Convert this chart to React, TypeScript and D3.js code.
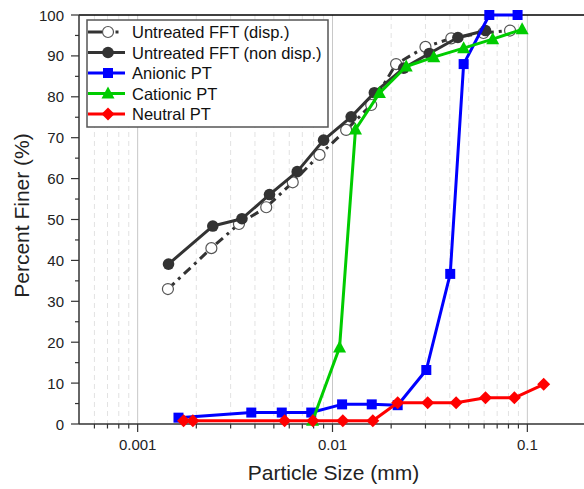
import React from "react";
import * as d3 from "d3";

// particle size (mm) and percent finer
const dispSize = [0.00143, 0.00239, 0.00331, 0.00457, 0.00625, 0.00858, 0.01175, 0.0158, 0.0212, 0.03, 0.0407, 0.0595, 0.0815];
const dispFiner = [33.0, 43.0, 48.9, 53.0, 59.1, 65.8, 71.9, 78.0, 88.0, 92.2, 94.3, 95.6, 96.2];

const nonDispSize = [0.00144, 0.00243, 0.00343, 0.00475, 0.00659, 0.009, 0.01247, 0.0164, 0.0232, 0.0314, 0.044, 0.061];
const nonDispFiner = [39.1, 48.4, 50.2, 56.1, 61.7, 69.4, 75.1, 81.0, 87.0, 90.6, 94.5, 96.2];

const anionicSize = [0.00162, 0.00383, 0.00549, 0.00778, 0.0112, 0.0159, 0.0216, 0.0303, 0.0402, 0.0471, 0.0638, 0.0891];
const anionicFiner = [1.55, 2.8, 2.8, 2.8, 4.8, 4.8, 4.6, 13.2, 36.7, 88.0, 100, 100];

const cationicSize = [0.0079, 0.01087, 0.01312, 0.01741, 0.0239, 0.0331, 0.0471, 0.0664, 0.094];
const cationicFiner = [0.8, 18.7, 72.0, 80.9, 87.4, 89.7, 91.9, 94.1, 96.5];

const neutralSize = [0.00172, 0.00192, 0.00568, 0.00793, 0.0113, 0.0161, 0.0216, 0.0308, 0.0431, 0.061, 0.0858, 0.1213];
const neutralFiner = [0.8, 0.8, 0.8, 0.8, 0.8, 0.8, 5.2, 5.2, 5.2, 6.4, 6.4, 9.7];

const xMajor = [0.001, 0.01, 0.1];
const xTickLabels = ["0.001", "0.01", "0.1"];
const yTicks = [0, 10, 20, 30, 40, 50, 60, 70, 80, 90, 100];

const legendNames = ["Untreated FFT (disp.)", "Untreated FFT (non disp.)", "Anionic PT", "Cationic PT", "Neutral PT"];

const W = 584;
const H = 489;
const left = 79;
const top = 15;
const bottom = 424;
const font = "Arial, 'Liberation Sans', sans-serif";

const gray = "#333333";
const blue = "#0000ff";
const green = "#00cc00";
const red = "#ff0000";

const x = d3.scaleLog().domain([0.0005, 0.2]).range([left, 586]);
const y = d3.scaleLinear().domain([0, 100]).range([bottom, top]);

const minorX: number[] = [];
[0.0001, 0.001, 0.01, 0.1].forEach(d => {
    for (let k = 2; k <= 9; k++) {
        const v = d * k;
        if (v > 0.0005 && v < 0.2) minorX.push(v);
    }
});
const minorY = d3.range(5, 100, 10);

const pts = (xs: number[], ys: number[]) => xs.map((v, i) => [x(v), y(ys[i])] as [number, number]);
const line = d3.line();

const Marker = ({ kind, cx, cy, color }: { kind: string; cx: number; cy: number; color: string }) => {
    if (kind === "open") return <circle cx={cx} cy={cy} r={5.5} fill="#fff" stroke="#555" strokeWidth={1.2} />;
    if (kind === "dot") return <circle cx={cx} cy={cy} r={5.8} fill={color} />;
    if (kind === "square") return <rect x={cx - 5} y={cy - 5} width={10} height={10} fill={color} />;
    if (kind === "tri")
        return <path d={`M${cx},${cy - 7}L${cx + 6.5},${cy + 5}L${cx - 6.5},${cy + 5}Z`} fill={color} />;
    return <path d={`M${cx},${cy - 6.5}L${cx + 6.5},${cy}L${cx},${cy + 6.5}L${cx - 6.5},${cy}Z`} fill={color} />;
};

const series = [
    { xs: dispSize, ys: dispFiner, color: gray, kind: "open", dash: "9,5,3,5" },
    { xs: nonDispSize, ys: nonDispFiner, color: gray, kind: "dot", dash: undefined },
    { xs: anionicSize, ys: anionicFiner, color: blue, kind: "square", dash: undefined },
    { xs: cationicSize, ys: cationicFiner, color: green, kind: "tri", dash: undefined },
    { xs: neutralSize, ys: neutralFiner, color: red, kind: "diamond", dash: undefined },
];

const App = () => {
    return (
        <svg width={W} height={H} style={{ position: "absolute", left: 0, top: 0, background: "#fff" }} fontFamily={font}>
            {/* grid */}
            {minorX.map(v => (
                <line key={"mg" + v} x1={x(v)} x2={x(v)} y1={top} y2={bottom} stroke="#e2e2e2" strokeDasharray="5,4" strokeWidth={1} />
            ))}
            {xMajor.map(v => (
                <line key={"g" + v} x1={x(v)} x2={x(v)} y1={top} y2={bottom} stroke="#c8c8c8" strokeWidth={1} />
            ))}

            {/* axes */}
            <line x1={left} x2={W} y1={top} y2={top} stroke="#000" strokeWidth={1.5} />
            <line x1={left} x2={W} y1={bottom} y2={bottom} stroke="#333" strokeWidth={1.5} />
            <line x1={left} x2={left} y1={top} y2={bottom} stroke="#333" strokeWidth={1.5} />
            {yTicks.map(v => (
                <g key={"y" + v}>
                    <line x1={left - 8} x2={left} y1={y(v)} y2={y(v)} stroke="#333" strokeWidth={1.2} />
                    <text x={left - 15} y={y(v) + 5.5} textAnchor="end" fontSize={15} fill="#222">{v}</text>
                </g>
            ))}
            {minorY.map(v => (
                <line key={"my" + v} x1={left - 4} x2={left} y1={y(v)} y2={y(v)} stroke="#333" strokeWidth={1.2} />
            ))}
            {xMajor.map((v, i) => (
                <g key={"x" + v}>
                    <line x1={x(v)} x2={x(v)} y1={bottom} y2={bottom + 8} stroke="#333" strokeWidth={1.2} />
                    <text x={x(v)} y={bottom + 26} textAnchor="middle" fontSize={15} fill="#222">{xTickLabels[i]}</text>
                </g>
            ))}
            {minorX.map(v => (
                <line key={"mx" + v} x1={x(v)} x2={x(v)} y1={bottom} y2={bottom + 4.5} stroke="#333" strokeWidth={1.2} />
            ))}
            <text x={(left + W) / 2 + 2} y={480} textAnchor="middle" fontSize={21} fill="#222">Particle Size (mm)</text>
            <text transform={`translate(29,${(top + bottom) / 2 - 4}) rotate(-90)`} textAnchor="middle" fontSize={21} fill="#222">Percent Finer (%)</text>

            {/* data */}
            {series.map((s, i) => {
                const p = pts(s.xs, s.ys);
                return (
                    <g key={"s" + i}>
                        <path d={line(p) || ""} fill="none" stroke={s.color} strokeWidth={3} strokeDasharray={s.dash} strokeLinejoin="round" />
                        {p.map((q, j) => (
                            <Marker key={j} kind={s.kind} cx={q[0]} cy={q[1]} color={s.color} />
                        ))}
                    </g>
                );
            })}

            {/* legend */}
            <rect x={87} y={20} width={241} height={107} fill="#fff" stroke="#555" strokeWidth={1.5} />
            {series.map((s, i) => {
                const ry = 32 + i * 20.5;
                return (
                    <g key={"l" + i}>
                        {s.kind === "open" ? (
                            <>
                                <line x1={88} x2={102} y1={ry} y2={ry} stroke={s.color} strokeWidth={3} />
                                <line x1={115.5} x2={118.5} y1={ry} y2={ry} stroke={s.color} strokeWidth={3} />
                            </>
                        ) : (
                            <line x1={88} x2={125} y1={ry} y2={ry} stroke={s.color} strokeWidth={3} />
                        )}
                        <Marker kind={s.kind} cx={108} cy={ry} color={s.color} />
                        <text x={132} y={ry + 6} fontSize={16.5} fill="#111">{legendNames[i]}</text>
                    </g>
                );
            })}
        </svg>
    );
};

export default App;
